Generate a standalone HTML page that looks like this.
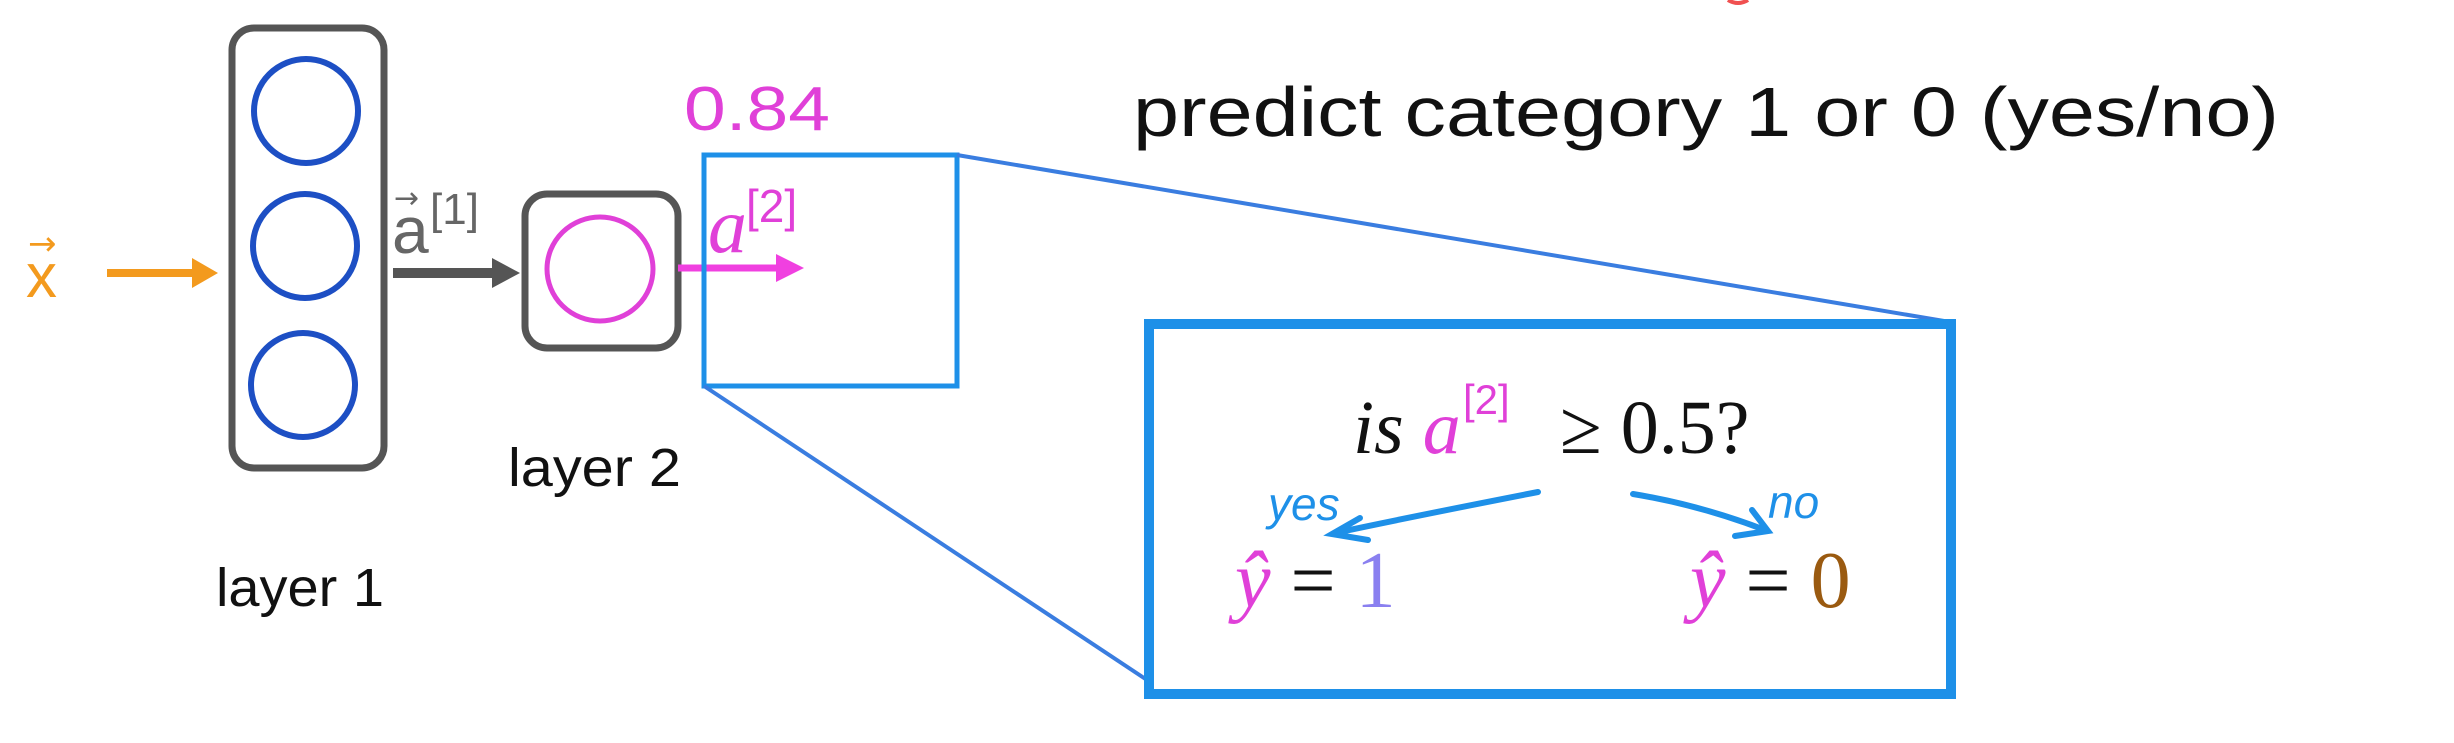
<!DOCTYPE html>
<html><head><meta charset="utf-8"><style>
html,body{margin:0;padding:0;background:#fff;}
svg{display:block;}
</style></head><body>
<svg width="2454" height="743" viewBox="0 0 2454 743" xmlns="http://www.w3.org/2000/svg">
<!-- layer 1 -->
<rect x="232" y="28" width="152" height="440" rx="22" fill="none" stroke="#555" stroke-width="7"/>
<ellipse cx="306" cy="111" rx="52" ry="52" fill="none" stroke="#1d4fc4" stroke-width="6"/>
<ellipse cx="305" cy="246" rx="52" ry="52" fill="none" stroke="#1d4fc4" stroke-width="6"/>
<ellipse cx="303" cy="385" rx="52" ry="52" fill="none" stroke="#1d4fc4" stroke-width="6"/>
<!-- x input -->
<text x="26" y="297" font-family="Liberation Sans, sans-serif" font-size="62" fill="#f39a1e">x</text>
<text x="28" y="255" font-family="DejaVu Sans, sans-serif" font-size="34" fill="#f39a1e">→</text>
<line x1="107" y1="273" x2="196" y2="273" stroke="#f39a1e" stroke-width="8"/>
<polygon points="192,258 218,273 192,288" fill="#f39a1e"/>
<!-- a1 -->
<text x="392" y="253" font-family="Liberation Sans, sans-serif" font-size="66" fill="#666">a</text>
<text x="394" y="208" font-family="DejaVu Sans, sans-serif" font-size="30" fill="#666">→</text>
<text x="430" y="224" font-family="Liberation Sans, sans-serif" font-size="44" fill="#666">[1]</text>
<line x1="393" y1="273" x2="496" y2="273" stroke="#555" stroke-width="10"/>
<polygon points="492,258 520,273 492,288" fill="#555"/>
<!-- layer 2 -->
<rect x="525" y="194" width="153" height="154" rx="22" fill="none" stroke="#555" stroke-width="7"/>
<ellipse cx="600" cy="269" rx="53" ry="52" fill="none" stroke="#e040d8" stroke-width="5"/>
<line x1="678" y1="268" x2="782" y2="268" stroke="#f040e0" stroke-width="7"/>
<polygon points="776,254 804,268 776,282" fill="#f040e0"/>
<text x="708" y="252" font-family="Liberation Serif, serif" font-style="italic" font-size="78" fill="#e040d8">a</text>
<text x="746" y="222" font-family="Liberation Sans, sans-serif" font-size="46" fill="#e040d8">[2]</text>
<text x="684" y="130" font-family="Liberation Sans, sans-serif" font-size="62" fill="#e040d8" textLength="146" lengthAdjust="spacingAndGlyphs">0.84</text>
<!-- labels -->
<text x="508" y="486" font-family="Liberation Sans, sans-serif" font-size="54" fill="#111" textLength="173" lengthAdjust="spacingAndGlyphs">layer 2</text>
<text x="216" y="606" font-family="Liberation Sans, sans-serif" font-size="54" fill="#111" textLength="168" lengthAdjust="spacingAndGlyphs">layer 1</text>
<text x="1133" y="136" font-family="Liberation Sans, sans-serif" font-size="70" fill="#111" textLength="1146" lengthAdjust="spacingAndGlyphs">predict category 1 or 0 (yes/no)</text>
<!-- zoom boxes -->
<rect x="704" y="155" width="253" height="231" fill="none" stroke="#1e90e8" stroke-width="5"/>
<line x1="957" y1="155" x2="1950" y2="322" stroke="#3a7de0" stroke-width="4"/>
<line x1="704" y1="386" x2="1147" y2="680" stroke="#3a7de0" stroke-width="4"/>
<rect x="1149" y="324" width="802" height="370" fill="none" stroke="#1e90e8" stroke-width="10"/>
<!-- inner content -->
<text x="1353" y="453" font-family="Liberation Serif, serif" font-size="76" fill="#111"><tspan font-style="italic">is </tspan><tspan font-style="italic" fill="#e040d8">a</tspan></text>
<text x="1463" y="414" font-family="Liberation Sans, sans-serif" font-size="42" fill="#e040d8">[2]</text>
<text x="1560" y="453" font-family="Liberation Serif, serif" font-size="76" fill="#111">≥ 0.5?</text>
<text x="1268" y="520" font-family="Liberation Sans, sans-serif" font-size="46" font-style="italic" fill="#1e90e8">yes</text>
<text x="1768" y="518" font-family="Liberation Sans, sans-serif" font-size="46" font-style="italic" fill="#1e90e8">no</text>
<path d="M1538,492 Q1420,515 1335,533" fill="none" stroke="#1e90e8" stroke-width="6" stroke-linecap="round"/>
<path d="M1360,518 L1332,534 L1368,540" fill="none" stroke="#1e90e8" stroke-width="6" stroke-linecap="round"/>
<path d="M1633,494 Q1700,505 1765,530" fill="none" stroke="#1e90e8" stroke-width="6" stroke-linecap="round"/>
<path d="M1752,510 L1768,531 L1735,536" fill="none" stroke="#1e90e8" stroke-width="6" stroke-linecap="round"/>
<text x="1235" y="607" font-family="Liberation Serif, serif" font-size="80" fill="#111"><tspan font-style="italic" fill="#e040d8">ŷ</tspan> = <tspan fill="#8a80f0">1</tspan></text>
<text x="1690" y="607" font-family="Liberation Serif, serif" font-size="80" fill="#111"><tspan font-style="italic" fill="#e040d8">ŷ</tspan> = <tspan fill="#9a5a10">0</tspan></text>
<!-- red fragment at top -->
<path d="M1728,0 Q1738,6 1748,0" fill="none" stroke="#f05050" stroke-width="4"/>
</svg>
</body></html>
